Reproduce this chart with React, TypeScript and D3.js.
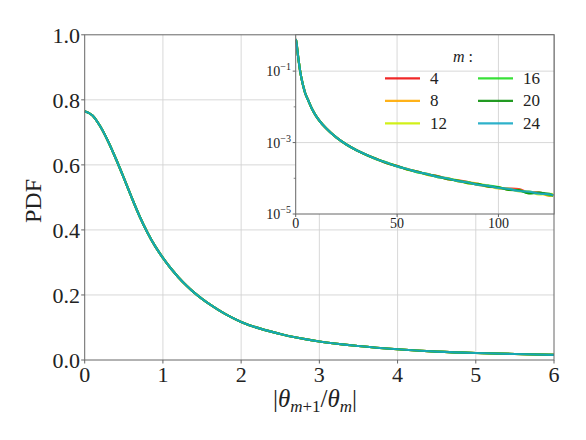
import React from 'react';
import * as d3 from 'd3';

// ---- data ----
const xVals = [0, 0.1, 0.2, 0.3, 0.4, 0.5, 0.6, 0.7, 0.8, 0.9, 1.0, 1.1, 1.2, 1.3, 1.4, 1.5, 1.6, 1.8, 2.0, 2.5, 3, 3.5, 4, 4.5, 5, 5.5, 6, 8, 10, 12, 15, 20, 25, 30, 35,
  40, 45, 50, 55, 60, 65, 70, 75, 80, 85, 90, 95, 100, 105, 110, 115, 120, 125, 127];
const pdfVals = [0.765, 0.752, 0.718, 0.672, 0.618, 0.56, 0.5, 0.443, 0.393, 0.35, 0.314, 0.282, 0.254, 0.229, 0.207, 0.188, 0.171, 0.141, 0.117, 0.08, 0.057, 0.043, 0.033, 0.026, 0.0215, 0.0185, 0.016, 0.0088, 0.0056, 0.0039, 0.0025, 0.00139, 0.00088, 0.00061, 0.00045,
  3.4e-4, 2.69e-4, 2.18e-4, 1.8e-4, 1.51e-4, 1.29e-4, 1.11e-4, 9.7e-5, 8.5e-5, 7.5e-5, 6.7e-5, 6.0e-5, 5.45e-5, 4.94e-5, 4.5e-5, 4.12e-5, 3.78e-5, 3.49e-5, 3.38e-5];
const tailStart = 35; // index of x = 40

const seriesM = [4, 8, 12, 16, 20, 24];
const seriesColors = ['#ee1111', '#ffaa00', '#ccee00', '#22dd22', '#0a8f0a', '#17a8c4'];
// per-series log10 deviations on the tail (x = 40 ... 127)
const seriesNoise4 = [0.005, -0.008, 0.01, -0.006, 0.012, -0.01, 0.015, -0.012, 0.01, 0.018, -0.015, 0.012, -0.01, 0.02, 0.045, -0.015, 0.03, -0.02, 0.01];
const seriesNoise8 = [-0.006, 0.008, -0.01, 0.012, -0.008, 0.014, -0.012, 0.016, -0.014, 0.01, 0.018, -0.02, 0.015, -0.018, 0.02, -0.025, 0.01, -0.03, -0.02];
const seriesNoise12 = [0.008, -0.005, 0.006, -0.012, 0.01, -0.015, 0.008, -0.01, 0.016, -0.018, 0.012, 0.02, -0.022, 0.015, -0.02, 0.018, -0.028, 0.02, 0.03];
const seriesNoise16 = [-0.004, 0.01, -0.008, 0.006, -0.014, 0.01, -0.016, 0.012, -0.01, 0.02, -0.012, 0.016, 0.02, -0.015, 0.012, -0.03, 0.02, -0.015, -0.01];
const seriesNoise20 = [0.006, -0.01, 0.004, -0.008, 0.01, -0.006, 0.012, -0.014, 0.008, -0.012, 0.016, -0.01, 0.012, -0.02, 0.015, -0.035, 0.015, 0.02, -0.01];
const seriesNoise24 = [0, 0.004, -0.006, 0.005, -0.004, 0.006, -0.005, 0.008, -0.006, 0.006, -0.008, 0.01, -0.006, 0.008, -0.01, 0.012, -0.008, 0.01, -0.005];
const seriesNoise = [seriesNoise4, seriesNoise8, seriesNoise12, seriesNoise16, seriesNoise20, seriesNoise24];

const mainXTicks = [0, 1, 2, 3, 4, 5, 6];
const mainYTicks = [0, 0.2, 0.4, 0.6, 0.8, 1.0];
const insetXTicks = [0, 50, 100];
const insetYMajor = [-1, -3, -5];
const insetYMinor = [-2, -4];

// ---- layout ----
const W = 586, H = 440;
const M = { left: 84.7, right: 554, top: 34.8, bottom: 360 };
const I = { left: 295.7, right: 554, top: 34.8, bottom: 214 };
const FONT = '"Liberation Serif", "Times New Roman", serif';
const SPINE = '#666';
const GRID = '#d4d4d4';

export default function App() {
  const x = d3.scaleLinear().domain([0, 6]).range([M.left, M.right]);
  const y = d3.scaleLinear().domain([0, 1]).range([M.bottom, M.top]);
  const xi = d3.scaleLinear().domain([0, 127.4]).range([I.left, I.right]);
  const yi = d3.scaleLog().domain([1e-5, Math.pow(10, 0.017)]).range([I.bottom, I.top]);

  const series = seriesM.map((m, s) =>
    xVals.map((xv, k) => {
      const n = k >= tailStart ? seriesNoise[s][k - tailStart] : 0;
      return [xv, pdfVals[k] * Math.pow(10, n)] as [number, number];
    })
  );

  const mainLine = d3.line<[number, number]>().x(d => x(d[0])).y(d => y(d[1])).curve(d3.curveMonotoneX);
  const insetLine = d3.line<[number, number]>().x(d => xi(d[0])).y(d => yi(d[1])).curve(d3.curveMonotoneX);

  return (
    <svg width={W} height={H} style={{ position: 'absolute', left: 0, top: 0, background: '#fff' }} fontFamily={FONT}>
      <defs>
        <clipPath id="clipMain"><rect x={M.left} y={M.top} width={M.right - M.left} height={M.bottom - M.top} /></clipPath>
        <clipPath id="clipInset"><rect x={I.left} y={I.top} width={I.right - I.left} height={I.bottom - I.top} /></clipPath>
      </defs>
      <rect x={0} y={0} width={W} height={H} fill="#fff" />

      {/* main grid */}
      {mainXTicks.slice(1, -1).map(t => (
        <line key={'gx' + t} x1={x(t)} x2={x(t)} y1={M.top} y2={M.bottom} stroke={GRID} strokeWidth={0.9} />
      ))}
      {mainYTicks.slice(1, -1).map(t => (
        <line key={'gy' + t} x1={M.left} x2={M.right} y1={y(t)} y2={y(t)} stroke={GRID} strokeWidth={0.9} />
      ))}

      {/* main lines */}
      <g clipPath="url(#clipMain)">
        {series.map((d, s) => (
          <path key={'m' + s} d={mainLine(d) || ''} fill="none" stroke={seriesColors[s]} strokeWidth={2.2} strokeOpacity={s === 5 ? 0.9 : 0.85} />
        ))}
      </g>

      {/* main spines */}
      <rect x={M.left} y={M.top} width={M.right - M.left} height={M.bottom - M.top} fill="none" stroke={SPINE} strokeWidth={1} />

      {/* main ticks & labels */}
      {mainXTicks.map(t => (
        <g key={'tx' + t}>
          <line x1={x(t)} x2={x(t)} y1={M.bottom} y2={M.bottom + 3.5} stroke={SPINE} />
          <text x={x(t)} y={381.7} textAnchor="middle" fontSize={22} fill="#222">{t}</text>
        </g>
      ))}
      {mainYTicks.map(t => (
        <g key={'ty' + t}>
          <line x1={M.left - 3.5} x2={M.left} y1={y(t)} y2={y(t)} stroke={SPINE} />
          <text x={80} y={y(t) + 8} textAnchor="end" fontSize={22} fill="#222">{t.toFixed(1)}</text>
        </g>
      ))}

      {/* axis titles */}
      <text x={315} y={407} textAnchor="middle" fontSize={25} fill="#222">
        |<tspan fontStyle="italic">θ</tspan>
        <tspan fontSize={17} dy={5}><tspan fontStyle="italic">m</tspan>+1</tspan>
        <tspan dy={-5}>/</tspan><tspan fontStyle="italic">θ</tspan>
        <tspan fontSize={17} dy={5} fontStyle="italic">m</tspan>
        <tspan dy={-5}>|</tspan>
      </text>
      <text transform="translate(41,201) rotate(-90)" textAnchor="middle" fontSize={24} fill="#222">PDF</text>

      {/* inset */}
      <rect x={I.left} y={I.top} width={I.right - I.left} height={I.bottom - I.top} fill="#fff" />
      {insetXTicks.slice(1).map(t => (
        <line key={'igx' + t} x1={xi(t)} x2={xi(t)} y1={I.top} y2={I.bottom} stroke={GRID} strokeWidth={0.9} />
      ))}
      {insetYMajor.slice(0, -1).map(t => (
        <line key={'igy' + t} x1={I.left} x2={I.right} y1={yi(Math.pow(10, t))} y2={yi(Math.pow(10, t))} stroke={GRID} strokeWidth={0.9} />
      ))}
      <g clipPath="url(#clipInset)">
        {series.map((d, s) => (
          <path key={'i' + s} d={insetLine(d) || ''} fill="none" stroke={seriesColors[s]} strokeWidth={2.2} strokeOpacity={s === 5 ? 0.9 : 0.85} />
        ))}
      </g>
      <rect x={I.left} y={I.top} width={I.right - I.left} height={I.bottom - I.top} fill="none" stroke={SPINE} strokeWidth={1} />
      {insetXTicks.map(t => (
        <g key={'itx' + t}>
          <line x1={xi(t)} x2={xi(t)} y1={I.bottom} y2={I.bottom + 3} stroke={SPINE} />
          <text x={xi(t)} y={228} textAnchor="middle" fontSize={14} fill="#222">{t}</text>
        </g>
      ))}
      {insetYMajor.map(t => (
        <g key={'ity' + t}>
          <line x1={I.left - 3} x2={I.left} y1={yi(Math.pow(10, t))} y2={yi(Math.pow(10, t))} stroke={SPINE} />
          <text x={291} y={yi(Math.pow(10, t)) + 5} textAnchor="end" fontSize={14} fill="#222">
            10<tspan fontSize={10} dy={-6}>{'\u2212' + Math.abs(t)}</tspan>
          </text>
        </g>
      ))}
      {insetYMinor.map(t => (
        <line key={'itm' + t} x1={I.left - 2} x2={I.left} y1={yi(Math.pow(10, t))} y2={yi(Math.pow(10, t))} stroke={SPINE} strokeWidth={0.8} />
      ))}

      {/* legend */}
      <text x={463} y={62} textAnchor="middle" fontSize={16} fill="#222"><tspan fontStyle="italic">m</tspan> :</text>
      {seriesM.map((m, s) => {
        const col = Math.floor(s / 3);
        const row = s % 3;
        const lx = col === 0 ? 385 : 478;
        const ly = 78.3 + row * 22.5;
        return (
          <g key={'lg' + m}>
            <line x1={lx} x2={lx + 35} y1={ly} y2={ly} stroke={seriesColors[s]} strokeWidth={2.2} strokeOpacity={0.9} />
            <text x={lx + 45} y={ly + 5.5} fontSize={17} fill="#222">{m}</text>
          </g>
        );
      })}
    </svg>
  );
}
